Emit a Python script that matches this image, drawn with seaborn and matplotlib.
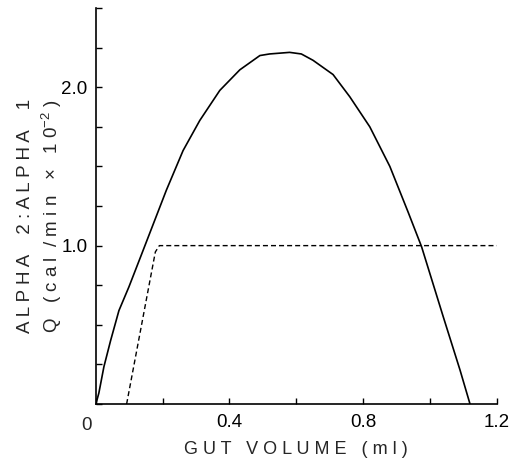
import numpy as np
import pandas as pd
import seaborn as sns
import matplotlib.pyplot as plt

# Solid curve: Q (cal/min x 10^-2) vs gut volume
gut_q = [0.0, 0.009, 0.024, 0.044, 0.069, 0.099, 0.134, 0.167, 0.211, 0.261,
         0.311, 0.371, 0.431, 0.491, 0.52, 0.58, 0.615, 0.65, 0.71, 0.76,
         0.82, 0.88, 0.935, 0.975, 1.04, 1.09, 1.12]
q_vals = [0.0, 0.07, 0.235, 0.40, 0.59, 0.74, 0.93, 1.11, 1.35, 1.60,
          1.79, 1.98, 2.11, 2.20, 2.21, 2.22, 2.21, 2.17, 2.08, 1.94,
          1.75, 1.50, 1.21, 0.993, 0.55, 0.215, 0.0]

# Dashed curve: alpha 2 : alpha 1 ratio
gut_ratio = [0.092, 0.178, 0.19, 1.2]
ratio_vals = [0.0, 0.96, 1.0, 1.0]

x_ticks = [0, 0.2, 0.4, 0.6, 0.8, 1.0, 1.2]
x_labels = ['', '', '0.4', '', '0.8', '', '1.2']
y_ticks = [0, 0.25, 0.5, 0.75, 1.0, 1.25, 1.5, 1.75, 2.0, 2.25, 2.5]
y_labels = ['', '', '', '', '1.0', '', '', '', '2.0', '', '']

sns.set_style('ticks')
plt.rcParams['font.family'] = ['Liberation Sans', 'DejaVu Sans']
plt.rcParams['mathtext.fontset'] = 'custom'
plt.rcParams['mathtext.rm'] = 'Liberation Sans'

fig = plt.figure(figsize=(5.1, 4.61), dpi=100)
ax = fig.add_axes([0.188, 0.1236, 0.786, 0.859])

df_q = pd.DataFrame({'x': gut_q, 'y': q_vals})
df_r = pd.DataFrame({'x': gut_ratio, 'y': ratio_vals})
sns.lineplot(data=df_q, x='x', y='y', sort=False, color='black', lw=1.2, ax=ax)
sns.lineplot(data=df_r, x='x', y='y', sort=False, color='black', lw=1.0,
             linestyle=(0, (3.6, 2.2)), ax=ax)

ax.set_xlim(0, 1.2)
ax.set_ylim(0, 2.5)
ax.set_xticks(x_ticks)
ax.set_xticklabels(x_labels)
ax.set_yticks(y_ticks)
ax.set_yticklabels(y_labels)
ax.tick_params(direction='in', length=4, width=1, labelsize=13.5, colors='black', pad=6)
ax.tick_params(axis='x', pad=7)
sns.despine(ax=ax)
for s in ['left', 'bottom']:
    ax.spines[s].set_linewidth(1.2)
    ax.spines[s].set_color('black')
ax.set_xlabel('')
ax.set_ylabel('')

# shared origin label
ax.annotate('0', xy=(0, 0), xytext=(-7, -9), textcoords='offset points',
            ha='center', va='top', fontsize=13.5)

fig.text(0.580, 0.026, 'G U T   V O L U M E   ( m l )', ha='center', va='center',
         fontsize=13)
fig.text(0.050, 0.278, 'A L P H A    2 : A L P H A    1', rotation=90,
         ha='center', va='bottom', fontsize=13.5)
fig.text(0.101, 0.278, 'Q   ( c a l  / m i n   ×   1 0$^{-2}$ )', rotation=90,
         ha='center', va='bottom', fontsize=13.5)

fig.savefig('out.png', dpi=100)
